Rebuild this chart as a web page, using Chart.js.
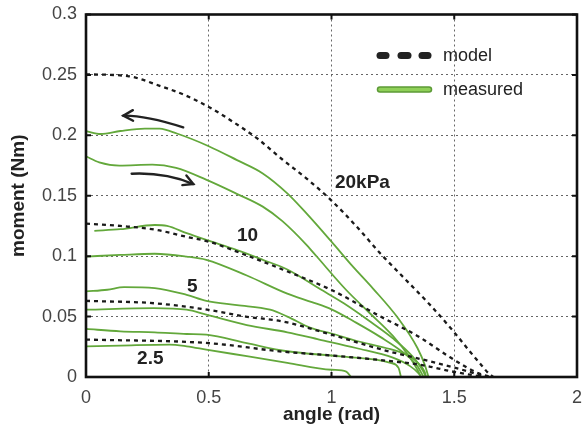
<!DOCTYPE html>
<html>
<head>
<meta charset="utf-8">
<script src="https://cdn.jsdelivr.net/npm/chart.js@4.4.1/dist/chart.umd.min.js"></script>
<style>
  body { margin: 0; background: #fff; }
  #wrap { width: 583px; height: 431px; }
</style>
</head>
<body>
<div id="wrap"><canvas id="momentChart" width="583" height="431"></canvas></div>
<script>
// axis ticks
const angleTicks = [0, 0.5, 1, 1.5, 2];
const angleTickLabels = ['0', '0.5', '1', '1.5', '2'];
const momentTicks = [0, 0.05, 0.1, 0.15, 0.2, 0.25, 0.3];
const momentTickLabels = ['0', '0.05', '0.1', '0.15', '0.2', '0.25', '0.3'];

// model curves [angle, moment]
const model20 = [[0,0.2505],[0.17,0.249],[0.3,0.241],[0.4,0.2335],[0.5,0.2235],[0.6,0.211],[0.7,0.197],[0.8,0.18],[0.9,0.164],[1.0,0.146],[1.1,0.125],[1.2,0.102],[1.3,0.081],[1.4,0.06],[1.5,0.037],[1.56,0.022],[1.61,0.01],[1.64,0.003],[1.66,0]];
const model10 = [[0,0.127],[0.14,0.125],[0.28,0.122],[0.41,0.116],[0.5,0.112],[0.65,0.101],[0.8,0.089],[1.0,0.072],[1.2,0.05],[1.35,0.034],[1.47,0.018],[1.55,0.008],[1.6,0.003],[1.65,0]];
const model5 = [[0,0.063],[0.28,0.061],[0.5,0.0555],[0.65,0.05],[0.8,0.046],[1.0,0.035],[1.2,0.023],[1.4,0.013],[1.55,0.005],[1.63,0]];
const model2_5 = [[0,0.031],[0.5,0.028],[0.8,0.021],[1.0,0.0178],[1.2,0.014],[1.38,0.0095],[1.48,0.005],[1.62,0]];

// measured curves [angle, moment]
const meas20a = [[0,0.2035],[0.06,0.2011],[0.14,0.2036],[0.24,0.2056],[0.3,0.2055],[0.37,0.2015],[0.5,0.191],[0.615,0.1795],[0.72,0.1685],[0.82,0.152],[0.9,0.135],[1.0,0.112],[1.08,0.093],[1.17,0.073],[1.27,0.049],[1.35,0.024],[1.38,0.01],[1.395,0]];
const meas20b = [[0,0.1826],[0.054,0.1776],[0.136,0.1749],[0.27,0.1757],[0.367,0.173],[0.489,0.1633],[0.61,0.152],[0.72,0.141],[0.8,0.129],[0.9,0.109],[0.94,0.0997],[1.06,0.072],[1.15,0.054],[1.25,0.034],[1.32,0.016],[1.35,0.006],[1.365,0]];
const meas10a = [[0.034,0.121],[0.14,0.1223],[0.28,0.1258],[0.33,0.125],[0.41,0.119],[0.49,0.1134],[0.615,0.105],[0.72,0.097],[0.82,0.089],[0.955,0.0726],[1.05,0.061],[1.15,0.047],[1.25,0.032],[1.33,0.017],[1.37,0.006],[1.385,0]];
const meas10b = [[0,0.0997],[0.14,0.101],[0.28,0.102],[0.41,0.0997],[0.49,0.097],[0.655,0.084],[0.82,0.069],[0.92,0.062],[1.0,0.056],[1.1,0.045],[1.2,0.033],[1.3,0.019],[1.35,0.009],[1.375,0]];
const meas5a = [[0,0.0708],[0.087,0.0722],[0.155,0.0744],[0.28,0.0736],[0.41,0.068],[0.49,0.063],[0.615,0.0595],[0.75,0.0557],[0.82,0.05],[0.915,0.0406],[1.0,0.036],[1.1,0.03],[1.24,0.023],[1.32,0.017],[1.36,0.01],[1.38,0.004],[1.385,0]];
const meas5b = [[0,0.0557],[0.277,0.057],[0.41,0.0557],[0.49,0.0516],[0.655,0.043],[0.82,0.037],[0.95,0.031],[1.1,0.024],[1.25,0.016],[1.32,0.009],[1.355,0.003],[1.365,0]];
const meas2_5a = [[0,0.0398],[0.14,0.0378],[0.28,0.037],[0.41,0.0356],[0.49,0.035],[0.655,0.028],[0.82,0.0213],[1.036,0.017],[1.24,0.0117],[1.273,0.0076],[1.283,0]];
const meas2_5b = [[0,0.0254],[0.14,0.026],[0.34,0.0268],[0.41,0.0254],[0.49,0.0227],[0.655,0.0172],[0.82,0.0117],[1.0,0.006],[1.06,0.0045],[1.08,0]];

const pressureLabels = ['20kPa', '10', '5', '2.5'];
const labelAngle = [1.014, 0.615, 0.411, 0.208];
const labelMoment = [0.161, 0.117, 0.0746, 0.0149];

const modelCurves = [model20, model10, model5, model2_5];
const measuredCurves = [meas20a, meas20b, meas10a, meas10b, meas5a, meas5b, meas2_5a, meas2_5b];

const GREEN = '#63a83b';
const FONT = '"Liberation Sans", Arial, Helvetica, sans-serif';

function toPoints(arr) {
    return arr.map(p => ({ x: p[0], y: p[1] }));
}

const datasets = [];
modelCurves.forEach(c => {
    datasets.push({
        label: 'model',
        data: toPoints(c),
        showLine: true,
        borderColor: '#1a1a1a',
        borderWidth: 2.3,
        borderDash: [4, 4],
        pointRadius: 0,
        cubicInterpolationMode: 'monotone',
        order: 0
    });
});
measuredCurves.forEach(c => {
    datasets.push({
        label: 'measured',
        data: toPoints(c),
        showLine: true,
        borderColor: GREEN,
        borderWidth: 1.8,
        pointRadius: 0,
        cubicInterpolationMode: 'monotone',
        order: 1
    });
});

function arrow(ctx, x, y, pts) {
    const p = pts.map(q => [x.getPixelForValue(q[0]), y.getPixelForValue(q[1])]);
    ctx.beginPath();
    ctx.moveTo(p[0][0], p[0][1]);
    ctx.quadraticCurveTo(p[1][0], p[1][1], p[2][0], p[2][1]);
    ctx.stroke();
    const ang = Math.atan2(p[2][1] - p[1][1], p[2][0] - p[1][0]);
    const len = 11;
    ctx.beginPath();
    ctx.moveTo(p[2][0] - len * Math.cos(ang - 0.5), p[2][1] - len * Math.sin(ang - 0.5));
    ctx.lineTo(p[2][0], p[2][1]);
    ctx.lineTo(p[2][0] - len * Math.cos(ang + 0.5), p[2][1] - len * Math.sin(ang + 0.5));
    ctx.stroke();
}

const overlay = {
    id: 'overlay',
    afterDraw(chart) {
        const { ctx, chartArea: a, scales: { x, y } } = chart;
        ctx.save();
        // frame
        ctx.strokeStyle = '#111';
        ctx.lineWidth = 2.6;
        ctx.setLineDash([]);
        ctx.strokeRect(a.left, a.top, a.right - a.left, a.bottom - a.top);
        // inward tick marks
        ctx.lineWidth = 2;
        ctx.beginPath();
        angleTicks.forEach(v => {
            const px = x.getPixelForValue(v);
            ctx.moveTo(px, a.bottom); ctx.lineTo(px, a.bottom - 5);
            ctx.moveTo(px, a.top); ctx.lineTo(px, a.top + 5);
        });
        momentTicks.forEach(v => {
            const py = y.getPixelForValue(v);
            ctx.moveTo(a.left, py); ctx.lineTo(a.left + 5, py);
            ctx.moveTo(a.right, py); ctx.lineTo(a.right - 5, py);
        });
        ctx.stroke();

        // pressure labels
        ctx.fillStyle = '#222';
        ctx.font = 'bold 19px ' + FONT;
        ctx.textAlign = 'left';
        ctx.textBaseline = 'middle';
        pressureLabels.forEach((t, i) => {
            ctx.fillText(t, x.getPixelForValue(labelAngle[i]), y.getPixelForValue(labelMoment[i]));
        });

        // arrows
        ctx.strokeStyle = '#222';
        ctx.lineWidth = 2.4;
        ctx.lineCap = 'round';
        arrow(ctx, x, y, [[0.396, 0.2066], [0.24, 0.2167], [0.152, 0.2163]]);
        arrow(ctx, x, y, [[0.186, 0.1682], [0.322, 0.1695], [0.437, 0.1597]]);

        // legend
        const lx = a.left + 291, ly1 = a.top + 41, ly2 = a.top + 75;
        ctx.strokeStyle = '#222';
        ctx.lineWidth = 7;
        ctx.lineCap = 'round';
        [[0, 12], [21, 34], [42, 54]].forEach(s => {
            ctx.beginPath();
            ctx.moveTo(lx + s[0] + 3, ly1);
            ctx.lineTo(lx + s[1] - 3, ly1);
            ctx.stroke();
        });
        ctx.strokeStyle = '#5c9a36';
        ctx.lineWidth = 6.5;
        ctx.beginPath();
        ctx.moveTo(lx + 3, ly2);
        ctx.lineTo(lx + 52, ly2);
        ctx.stroke();
        ctx.strokeStyle = '#8fd058';
        ctx.lineWidth = 3.5;
        ctx.beginPath();
        ctx.moveTo(lx + 3, ly2);
        ctx.lineTo(lx + 52, ly2);
        ctx.stroke();
        ctx.fillStyle = '#222';
        ctx.font = '18px ' + FONT;
        ctx.fillText('model', lx + 66, ly1 + 1);
        ctx.fillText('measured', lx + 66, ly2 + 1);
        ctx.restore();
    }
};

const ctx = document.getElementById('momentChart').getContext('2d');
const momentChart = new Chart(ctx, {
    type: 'scatter',
    data: { datasets: datasets },
    options: {
        responsive: false,
        animation: false,
        layout: {
            padding: { top: 14.5, right: 6, left: 0, bottom: 0 }
        },
        scales: {
            x: {
                type: 'linear',
                min: 0,
                max: 2,
                afterFit: function(scale) {
                    scale.height = 54;
                    scale.paddingLeft = 0;
                    scale.paddingRight = 0;
                },
                ticks: {
                    stepSize: 0.5,
                    padding: 10,
                    color: '#444',
                    font: { family: FONT, size: 18 },
                    callback: function(value, index) {
                        return angleTickLabels[index];
                    }
                },
                grid: {
                    color: '#666',
                    lineWidth: 1,
                    drawTicks: false
                },
                border: { display: false, dash: [2, 3] },
                title: {
                    display: true,
                    text: 'angle (rad)',
                    color: '#222',
                    font: { family: FONT, size: 19, weight: 'bold' },
                    padding: { top: 0, bottom: 5 }
                }
            },
            y: {
                type: 'linear',
                min: 0,
                max: 0.3,
                afterFit: function(scale) {
                    scale.width = 86;
                    scale.paddingTop = 0;
                    scale.paddingBottom = 0;
                },
                ticks: {
                    stepSize: 0.05,
                    padding: 9,
                    color: '#444',
                    font: { family: FONT, size: 18 },
                    callback: function(value, index) {
                        return momentTickLabels[index];
                    }
                },
                grid: {
                    color: '#666',
                    lineWidth: 1,
                    drawTicks: false
                },
                border: { display: false, dash: [2, 3] },
                title: {
                    display: true,
                    text: 'moment (Nm)',
                    color: '#222',
                    font: { family: FONT, size: 19, weight: 'bold' },
                    padding: { top: 7, bottom: 0 }
                }
            }
        },
        plugins: {
            legend: { display: false },
            tooltip: { enabled: false }
        }
    },
    plugins: [overlay]
});
</script>
</body>
</html>
